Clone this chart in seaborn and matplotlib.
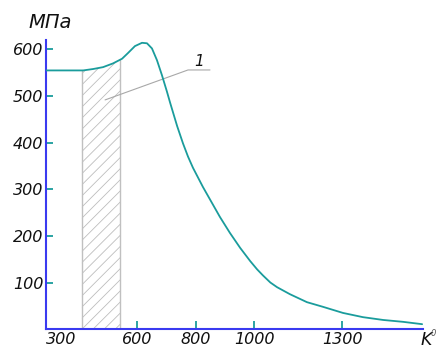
import matplotlib
matplotlib.use("Agg")
import matplotlib.pyplot as plt
import matplotlib.transforms as mtransforms
import seaborn as sns
import pandas as pd
import numpy as np

# --- data ---
temperature = [289, 416, 450, 484, 518, 549, 569, 593, 617, 634, 651, 668, 685,
               702, 713, 737, 757, 774, 791, 825, 883, 917, 952, 986, 1010,
               1030, 1055, 1078, 1122, 1180, 1235, 1303, 1371, 1440, 1508, 1573]
strength = [554, 554, 557, 561, 569, 579, 591, 606, 613, 612, 601, 576, 544,
            509, 485, 435, 398, 370, 346, 305, 241, 207, 175, 147, 129,
            116, 101, 91, 76, 59, 49, 36, 27, 21, 17, 12]
hatch_left, hatch_right = 412, 542
x_ticks = [300, 600, 800, 1000, 1300]
y_ticks = [100, 200, 300, 400, 500, 600]
leader_x = [491, 774, 849]
leader_y = [491, 555, 555]

df = pd.DataFrame({"T": temperature, "S": strength})

sns.set_theme(style="white")
plt.rcParams["font.family"] = ["DejaVu Sans"]
plt.rcParams["hatch.linewidth"] = 0.6
plt.rcParams["hatch.color"] = "#bdbdbd"

fig = plt.figure(figsize=(4.4, 3.49), dpi=100)
ax = fig.add_axes([46 / 440, 20 / 349, (423 - 46) / 440, (329 - 40) / 349])

teal = "#1a9c9c"
blue = "#3a3af0"
gray = "#c0c0c0"

# hatched region
sub_T = [hatch_left] + [t for t in temperature if hatch_left < t < hatch_right] + [hatch_right]
sub_S = [float(np.interp(t, temperature, strength)) for t in sub_T]
ax.fill_between(sub_T, 0, sub_S, facecolor="none", edgecolor="#bdbdbd",
                hatch="///", linewidth=0)
for xv in (hatch_left, hatch_right):
    yv = float(np.interp(xv, temperature, strength))
    ax.plot([xv, xv], [0, yv], color=gray, lw=1.0, zorder=2)

sns.lineplot(data=df, x="T", y="S", ax=ax, color=teal, lw=1.3, zorder=3)

# leader line and label
ax.plot(leader_x, leader_y, color="#a8a8a8", lw=0.8, zorder=2)
ax.text(812, 574, "1", fontsize=11, style="italic", ha="center", va="center",
        color="#111111")

ax.set_xlim(289.4, 1576)
ax.set_ylim(1.7, 619)
ax.set_xticks(x_ticks)
ax.set_xticklabels([str(v) for v in x_ticks])
ax.set_yticks(y_ticks)
ax.set_yticklabels([str(v) for v in y_ticks])
ax.set_xlabel("")
ax.set_ylabel("")

for s in ("top", "right"):
    ax.spines[s].set_visible(False)
for s in ("left", "bottom"):
    ax.spines[s].set_color(blue)
    ax.spines[s].set_linewidth(1.5)

ax.tick_params(axis="both", direction="in", color=teal, width=1.3, length=5,
               labelsize=11.5, pad=2, labelcolor="#111111")
ax.tick_params(axis="x", length=6, bottom=True)
ax.tick_params(axis="y", left=True)
for lab in ax.get_xticklabels() + ax.get_yticklabels():
    lab.set_style("italic")

# first x tick: no mark, label shifted right
ax.xaxis.get_major_ticks()[0].tick1line.set_visible(False)
first = ax.get_xticklabels()[0]
first.set_transform(first.get_transform() +
                    mtransforms.ScaledTranslation(12 / 100, 0, fig.dpi_scale_trans))

fig.text(50 / 440, 1 - 22 / 349, "МПа", fontsize=14, style="italic",
         ha="center", va="center", color="#111111")
fig.text(426 / 440, 1 - 340 / 349, "K", fontsize=12.5, style="italic",
         ha="center", va="center", color="#111111")
fig.text(433 / 440, 1 - 333 / 349, "0", fontsize=6, style="italic",
         ha="center", va="center", color="#555555")

fig.savefig("out.png", dpi=100)
